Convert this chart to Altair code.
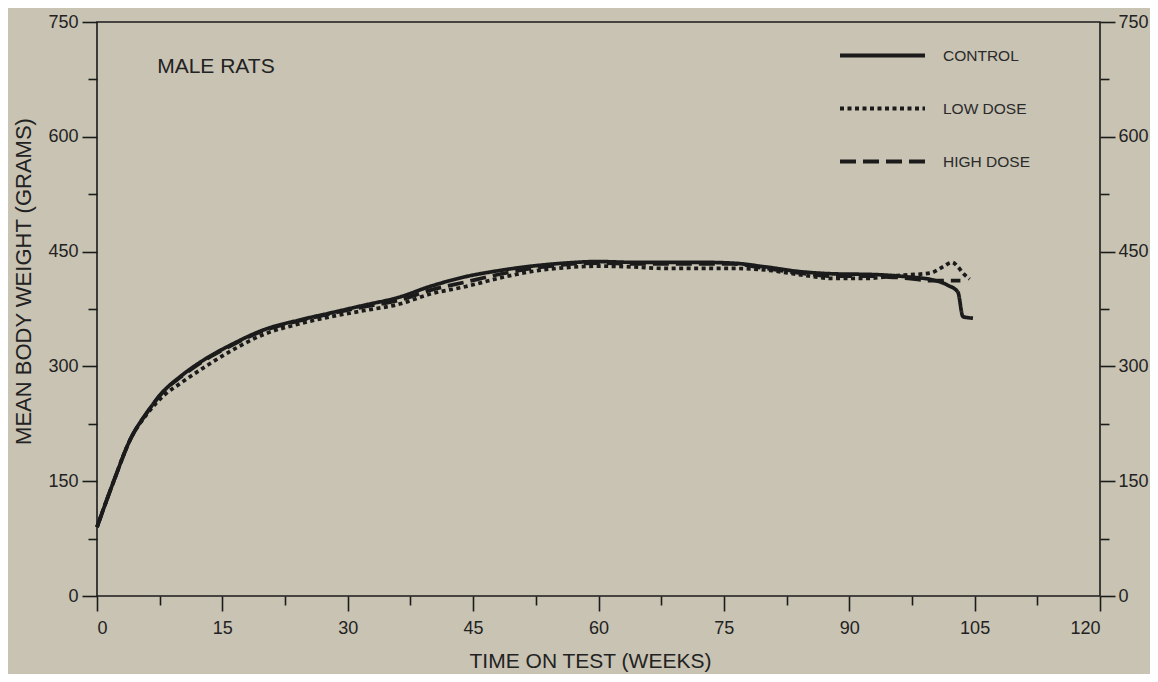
import altair as alt
import pandas as pd

# ---- data ----
groups = ["CONTROL", "LOW DOSE", "HIGH DOSE"]

control_weeks = [0, 2, 4, 6, 8, 10, 13, 16, 20, 24, 28, 32, 36, 40, 44, 48, 52, 56, 60,
                 64, 68, 72, 76, 80, 84, 88, 93, 97, 100, 101.8, 103, 103.6, 104.8]
control = [90, 150, 205, 240, 268, 287, 310, 328, 348, 360, 370, 380, 390, 405, 417, 425,
           431, 435, 437, 436, 436, 436, 435, 430, 424, 421, 420, 417, 413, 406, 397, 365, 363]

low_weeks = [0, 2, 4, 6, 8, 10, 13, 16, 20, 24, 28, 32, 36, 40, 44, 48, 52, 56, 60, 64,
             68, 72, 76, 80, 84, 88, 92, 96, 99.7, 101.2, 102.3, 103, 103.6, 104.4]
low = [90, 150, 205, 238, 262, 278, 300, 320, 342, 355, 365, 373, 381, 395, 404, 415, 424,
       429, 431, 430, 428, 428, 428, 426, 420, 415, 415, 419, 422, 430, 436, 430, 422, 414]

high_weeks = [0, 2, 4, 6, 8, 10, 13, 16, 20, 24, 28, 32, 36, 40, 44, 48, 52, 56, 60, 64,
              68, 72, 76, 80, 84, 88, 92, 96, 100, 103.3]
high = [90, 150, 205, 240, 268, 286, 309, 327, 347, 359, 369, 378, 386, 400, 410, 420, 428,
        433, 435, 434, 434, 434, 434, 428, 422, 418, 418, 416, 412, 412]

x_major = [0, 15, 30, 45, 60, 75, 90, 105, 120]
x_minor = [7.5, 22.5, 37.5, 52.5, 67.5, 82.5, 97.5, 112.5]
y_major = [0, 150, 300, 450, 600, 750]
y_minor = [75, 225, 375, 525, 675]

note_text = ["MALE RATS"]
note_week = [7.2]
note_weight = [691]

# ---- build tables ----
rows = []
for g, ws, vs in [("LOW DOSE", low_weeks, low), ("HIGH DOSE", high_weeks, high),
                  ("CONTROL", control_weeks, control)]:
    for w, v in zip(ws, vs):
        rows.append({"week": w, "weight": v, "group": g})
df = pd.DataFrame(rows)
notes = pd.DataFrame({"week": note_week, "weight": note_weight, "label": note_text})

ink = "#1b1b1b"
bg = "#c8c3b3"
font = "Liberation Sans"

xs = alt.Scale(domain=[0, 120], nice=False, zero=False)
ys = alt.Scale(domain=[0, 750], nice=False, zero=False)

legend = alt.Legend(
    title=None, orient="none", legendX=741, legendY=-11,
    symbolType="stroke", symbolSize=7225, symbolStrokeWidth=4,
    labelFont=font, labelFontSize=15.5, labelColor="#2a2a2a", labelOffset=16,
    rowPadding=0, padding=0,
)

lines = alt.Chart(df).mark_line(strokeWidth=3.7, strokeCap="butt", strokeJoin="round",
                                interpolate="monotone").encode(
    x=alt.X("week:Q", scale=xs, axis=alt.Axis(
        orient="bottom", values=x_major, tickSize=15, labelPadding=8,
        title="TIME ON TEST (WEEKS)", titleFontSize=21, titleX=493, titleY=65,
        titleBaseline="middle", grid=False)),
    y=alt.Y("weight:Q", scale=ys, axis=alt.Axis(
        orient="left", values=y_major, tickSize=15, labelPadding=4,
        title="MEAN BODY WEIGHT (GRAMS)", titleFontSize=22, titleX=-74, titleY=259,
        titleBaseline="middle", grid=False)),
    color=alt.Color("group:N", scale=alt.Scale(domain=groups, range=[ink, ink, ink]),
                    legend=legend),
    strokeDash=alt.StrokeDash("group:N", scale=alt.Scale(
        domain=groups, range=[[1, 0], [4, 3.5], [16, 7]]), legend=legend),
    detail="group:N",
)

ghost_minor_left = alt.Chart(df).mark_point(opacity=0).encode(
    x=alt.X("week:Q", scale=xs, axis=alt.Axis(orient="bottom", values=x_minor, tickSize=9,
                                              labels=False, title=None, grid=False)),
    y=alt.Y("weight:Q", scale=ys, axis=alt.Axis(orient="left", values=y_minor, tickSize=9,
                                                labels=False, title=None, grid=False)),
)

ghost_right_major = alt.Chart(df).mark_point(opacity=0).encode(
    x=alt.X("week:Q", scale=xs, axis=None),
    y=alt.Y("weight:Q", scale=ys, axis=alt.Axis(orient="right", values=y_major, tickSize=15,
                                                labelPadding=3, title=None, grid=False)),
)

ghost_right_minor = alt.Chart(df).mark_point(opacity=0).encode(
    x=alt.X("week:Q", scale=xs, axis=None),
    y=alt.Y("weight:Q", scale=ys, axis=alt.Axis(orient="right", values=y_minor, tickSize=9,
                                                labels=False, title=None, grid=False)),
)

note = alt.Chart(notes).mark_text(align="left", baseline="middle", font=font, fontSize=21,
                                  color="#222").encode(
    x=alt.X("week:Q", scale=xs, axis=None),
    y=alt.Y("weight:Q", scale=ys, axis=None),
    text="label:N",
)

chart = alt.layer(lines, ghost_minor_left, ghost_right_major, ghost_right_minor, note).resolve_axis(
    x="independent", y="independent"
).properties(
    width=1003, height=574,
    autosize=alt.AutoSizeParams(type="none"),
    padding={"left": 89, "top": 14, "right": 50, "bottom": 78},
    background=bg,
).configure_view(
    stroke=ink, strokeWidth=1.6, fill=bg
).configure_axis(
    domain=False, labelFont=font, labelFontSize=18, labelColor="#222",
    titleFont=font, titleColor="#222", titleFontWeight="normal",
    tickColor=ink, tickWidth=1.6,
)

chart.save("out.html", embed_options={"renderer": "svg", "actions": False})
